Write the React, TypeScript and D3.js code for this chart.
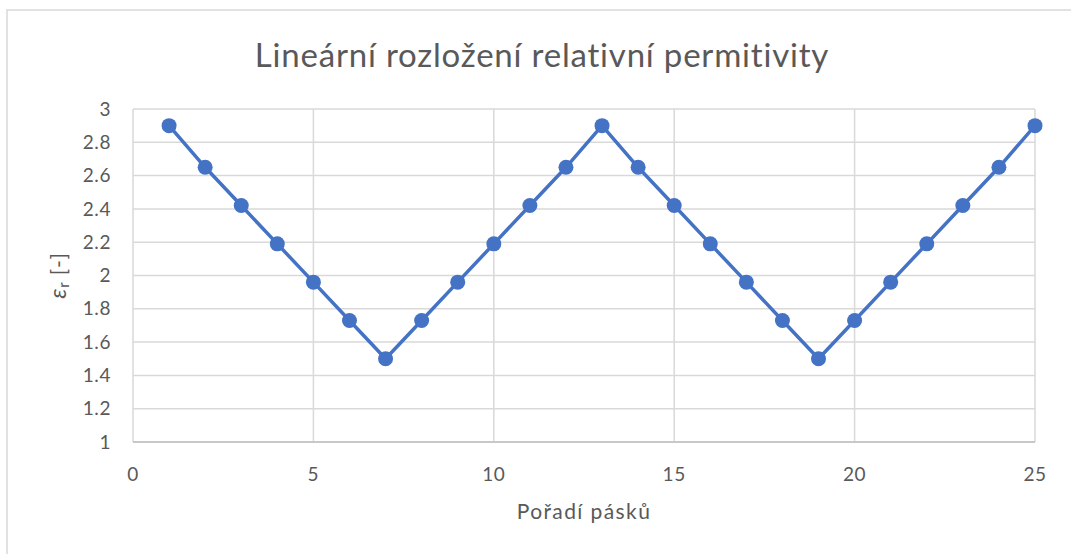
import React, { useEffect, useRef } from "react";
import * as d3 from "d3";

const stripIndex = [1, 2, 3, 4, 5, 6, 7, 8, 9, 10, 11, 12, 13, 14, 15, 16, 17, 18, 19, 20, 21, 22, 23, 24, 25];
const permittivity = [
  2.9, 2.65, 2.42, 2.19, 1.96, 1.73, 1.5, 1.73, 1.96, 2.19, 2.42, 2.65, 2.9,
  2.65, 2.42, 2.19, 1.96, 1.73, 1.5, 1.73, 1.96, 2.19, 2.42, 2.65, 2.9,
];
const xTicks = [0, 5, 10, 15, 20, 25];
const yTicks = [1, 1.2, 1.4, 1.6, 1.8, 2, 2.2, 2.4, 2.6, 2.8, 3];
const chartTitle = "Lineární rozložení relativní permitivity";
const xTitle = "Pořadí pásků";

const FONT = "Lato, 'Noto Sans', sans-serif";

const App = () => {
  const ref = useRef<SVGSVGElement>(null);

  useEffect(() => {
    const WIDTH = 1071;
    const HEIGHT = 554;
    const MARGIN = { top: 109, right: 36, bottom: 112, left: 133 };
    const INNER_WIDTH = WIDTH - MARGIN.left - MARGIN.right;
    const INNER_HEIGHT = HEIGHT - MARGIN.top - MARGIN.bottom;

    const svg = d3.select(ref.current);
    svg.selectAll("*").remove();

    // chart frame (runs off the right and bottom edge)
    svg
      .append("rect")
      .attr("x", 7)
      .attr("y", 10)
      .attr("width", WIDTH + 20)
      .attr("height", HEIGHT + 20)
      .attr("fill", "white")
      .attr("stroke", "#d9d9d9")
      .attr("stroke-width", 1.5);

    const x = d3.scaleLinear().domain([0, 25]).range([0, INNER_WIDTH]);
    const y = d3.scaleLinear().domain([1, 3]).range([INNER_HEIGHT, 0]);

    const g = svg
      .append("g")
      .attr("transform", "translate(" + MARGIN.left + "," + MARGIN.top + ")");

    /* gridlines */
    g.append("g")
      .selectAll("line")
      .data(yTicks)
      .join("line")
      .attr("x1", 0)
      .attr("x2", INNER_WIDTH)
      .attr("y1", (d) => y(d))
      .attr("y2", (d) => y(d))
      .attr("stroke", "#d9d9d9")
      .attr("stroke-width", 1.5);

    g.append("g")
      .selectAll("line")
      .data(xTicks)
      .join("line")
      .attr("x1", (d) => x(d))
      .attr("x2", (d) => x(d))
      .attr("y1", 0)
      .attr("y2", INNER_HEIGHT)
      .attr("stroke", "#d9d9d9")
      .attr("stroke-width", 1.5);

    // bottom axis line a bit darker
    g.append("line")
      .attr("x1", 0)
      .attr("x2", INNER_WIDTH)
      .attr("y1", INNER_HEIGHT)
      .attr("y2", INNER_HEIGHT)
      .attr("stroke", "#bfbfbf")
      .attr("stroke-width", 1.5);

    /* tick labels */
    g.append("g")
      .selectAll("text")
      .data(yTicks)
      .join("text")
      .attr("x", -22)
      .attr("y", (d) => y(d))
      .attr("dy", "0.35em")
      .attr("text-anchor", "end")
      .attr("font-family", FONT)
      .attr("font-size", 19)
      .attr("letter-spacing", 0.6)
      .attr("fill", "#595959")
      .text((d) => d3.format("~g")(d));

    g.append("g")
      .selectAll("text")
      .data(xTicks)
      .join("text")
      .attr("x", (d) => x(d))
      .attr("y", INNER_HEIGHT + 39)
      .attr("text-anchor", "middle")
      .attr("font-family", FONT)
      .attr("font-size", 19)
      .attr("letter-spacing", 0.6)
      .attr("fill", "#595959")
      .text((d) => d);

    /* line + markers */
    const line = d3
      .line<number>()
      .x((d, i) => x(stripIndex[i]))
      .y((d) => y(d));

    g.append("path")
      .datum(permittivity)
      .attr("fill", "none")
      .attr("stroke", "#4472c4")
      .attr("stroke-width", 3.5)
      .attr("stroke-linejoin", "round")
      .attr("d", line);

    g.append("g")
      .selectAll("circle")
      .data(permittivity)
      .join("circle")
      .attr("cx", (d, i) => x(stripIndex[i]))
      .attr("cy", (d) => y(d))
      .attr("r", 7.5)
      .attr("fill", "#4472c4");

    /* titles */
    svg
      .append("text")
      .attr("x", 542)
      .attr("y", 67)
      .attr("text-anchor", "middle")
      .attr("font-family", FONT)
      .attr("font-size", 33)
      .attr("letter-spacing", 0.8)
      .attr("fill", "#595959")
      .text(chartTitle);

    svg
      .append("text")
      .attr("x", MARGIN.left + INNER_WIDTH / 2)
      .attr("y", 519)
      .attr("text-anchor", "middle")
      .attr("font-family", FONT)
      .attr("font-size", 21)
      .attr("letter-spacing", 1.4)
      .attr("fill", "#595959")
      .text(xTitle);

    const yLabel = svg
      .append("text")
      .attr("transform", "translate(66," + (MARGIN.top + INNER_HEIGHT / 2) + ") rotate(-90)")
      .attr("text-anchor", "middle")
      .attr("font-family", FONT)
      .attr("font-size", 21)
      .attr("letter-spacing", 0.8)
      .attr("fill", "#595959");
    yLabel.append("tspan").attr("font-style", "italic").attr("font-size", 24).text("ε");
    yLabel.append("tspan").attr("font-size", 15).attr("dy", 3).text("r");
    yLabel.append("tspan").attr("dy", -3).text(" [-]");
  }, []);

  return (
    <svg
      ref={ref}
      width={1071}
      height={554}
      style={{ position: "absolute", left: 0, top: 0, display: "block" }}
    />
  );
};

export default App;
